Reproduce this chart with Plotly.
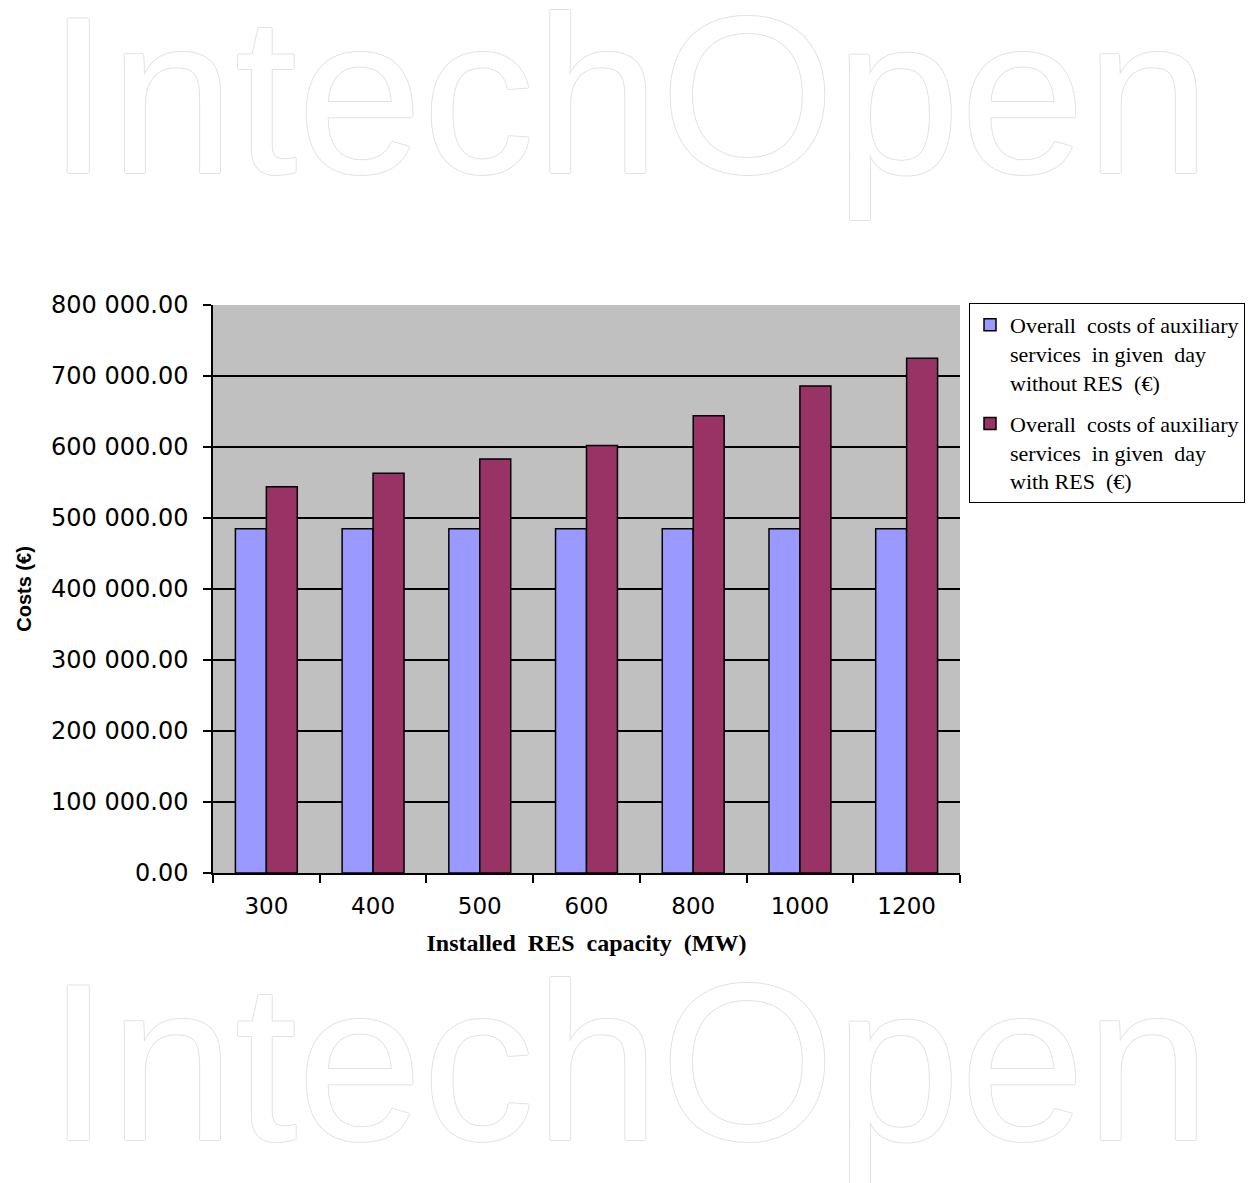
import plotly.graph_objects as go

# Installed renewable capacity (MW) on the category axis
capacity = ["300", "400", "500", "600", "800", "1000", "1200"]

# Daily cost of auxiliary services (EUR)
cost_without_res = [485000, 485000, 485000, 485000, 485000, 485000, 485000]
cost_with_res = [544000, 563000, 583000, 602000, 644000, 686000, 725000]

series_names = [
    "Overall  costs of auxiliary<br>services  in given  day<br>without RES  (€)",
    "Overall  costs of auxiliary<br>services  in given  day<br>with RES  (€)",
]

W, H = 1248, 1183
L, R, T, B = 213, 960, 305, 873

fig = go.Figure()
fig.add_trace(go.Bar(
    x=capacity, y=cost_without_res, name=series_names[0],
    marker=dict(color="#9999ff", line=dict(color="black", width=1.5)),
    legendgroup="a",
))
fig.add_trace(go.Bar(
    x=capacity, y=cost_with_res, name=series_names[1],
    marker=dict(color="#993366", line=dict(color="black", width=1.5)),
    legendgroup="b",
))


def wordmark(y_center):
    # Faint outlined publisher wordmark
    return dict(
        text="IntechOpen", xref="paper", yref="paper",
        x=(628 - L) / (R - L), y=(B - y_center) / (B - T),
        xanchor="center", yanchor="middle", showarrow=False,
        font=dict(family="Liberation Sans", size=225, color="white",
                  shadow="1px 0 0 #e2e2e2, -1px 0 0 #e2e2e2, 0 1px 0 #e2e2e2, 0 -1px 0 #e2e2e2"),
    )


fig.update_layout(
    width=W, height=H,
    margin=dict(l=L, r=W - R, t=T, b=H - B, pad=0, autoexpand=False),
    paper_bgcolor="white", plot_bgcolor="#c0c0c0",
    barmode="group", bargap=0.42, bargroupgap=0,
    separators=". ",
    showlegend=True,
    legend=dict(
        x=(969 - L) / (R - L), y=(B - 303) / (B - T),
        xanchor="left", yanchor="top", valign="top",
        bordercolor="black", borderwidth=1, bgcolor="white",
        font=dict(family="Liberation Serif", size=22, color="black"),
        tracegroupgap=10, traceorder="grouped",
    ),
    xaxis=dict(
        type="category", tickson="boundaries", ticks="outside", ticklen=8,
        tickcolor="black", tickwidth=1.5, showline=True, linecolor="black", linewidth=1.5,
        showgrid=False, ticklabelstandoff=12,
        tickfont=dict(family="DejaVu Sans", size=23, color="black"),
        title=dict(text="Installed  RES  capacity  (MW)", standoff=16,
                   font=dict(family="Liberation Serif", size=24, color="black", weight="bold")),
    ),
    yaxis=dict(
        range=[0, 800000], dtick=100000, tickformat=",.2f",
        ticks="outside", ticklen=8, tickcolor="black", tickwidth=1.5,
        showline=True, linecolor="black", linewidth=1.5,
        showgrid=True, gridcolor="black", gridwidth=1.5, zeroline=False,
        ticklabelstandoff=10,
        tickfont=dict(family="DejaVu Sans", size=24, color="black"),
        title=dict(text="Costs (€)", standoff=14,
                   font=dict(family="Liberation Sans", size=20, color="black", weight="bold")),
    ),
    annotations=[wordmark(95), wordmark(1062)],
)

fig.write_html("out.html")
